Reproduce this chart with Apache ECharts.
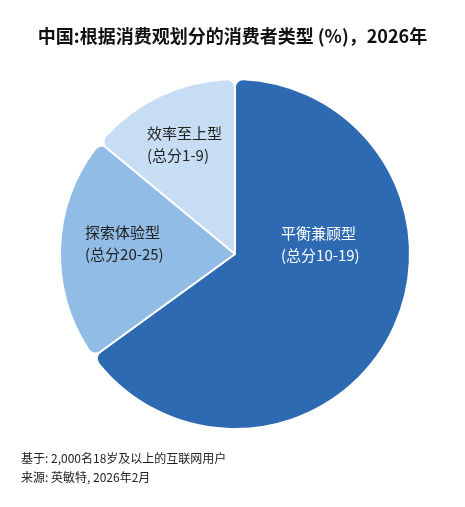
<!DOCTYPE html>
<html>
<head>
<meta charset="utf-8">
<script src="https://cdn.jsdelivr.net/npm/echarts@6/dist/echarts.min.js"></script>
<style>
html,body{margin:0;padding:0;background:#fff;}
#c{width:465px;height:507px;}
</style>
</head>
<body>
<div id="c"></div>
<script>
const categories = ['平衡兼顾型', '探索体验型', '效率至上型'];
const scoreRanges = ['(总分10-19)', '(总分20-25)', '(总分1-9)'];
const values = [65, 21, 14];
const colors = ['#2D6AB2', '#90BCE6', '#C6DDF3'];
const labelColors = ['#ffffff', '#222222', '#222222'];
const labelPos = [[281, 244], [85, 243], [147, 144]];

const chart = echarts.init(document.getElementById('c'));
const font = '"Noto Sans CJK SC", "Noto Sans", sans-serif';
chart.setOption({
  animation: false,
  backgroundColor: '#ffffff',
  title: {
    text: '中国:根据消费观划分的消费者类型 (%)，2026年',
    left: 'center',
    top: 22,
    textStyle: { fontFamily: font, fontSize: 18, fontWeight: 'bold', color: '#111111' }
  },
  graphic: [
    { type: 'text', left: 21, top: 452, style: { text: '基于: 2,000名18岁及以上的互联网用户', font: '12px ' + font, fill: '#222222' } },
    { type: 'text', left: 21, top: 471, style: { text: '来源: 英敏特, 2026年2月', font: '12px ' + font, fill: '#222222' } }
  ],
  series: [{
    type: 'pie',
    center: [235, 254],
    radius: [0, 175],
    startAngle: 90,
    clockwise: true,
    itemStyle: { borderColor: '#ffffff', borderWidth: 2, borderRadius: 8 },
    label: {
      show: true,
      position: 'inside',
      fontFamily: font,
      fontSize: 15,
      lineHeight: 22,
      align: 'left',
      formatter: p => p.name + '\n' + scoreRanges[p.dataIndex]
    },
    labelLayout: p => ({ x: labelPos[p.dataIndex][0], y: labelPos[p.dataIndex][1], align: 'left', verticalAlign: 'middle' }),
    data: categories.map((n, i) => ({
      name: n, value: values[i],
      itemStyle: { color: colors[i] },
      label: { color: labelColors[i] }
    }))
  }]
});
</script>
</body>
</html>
